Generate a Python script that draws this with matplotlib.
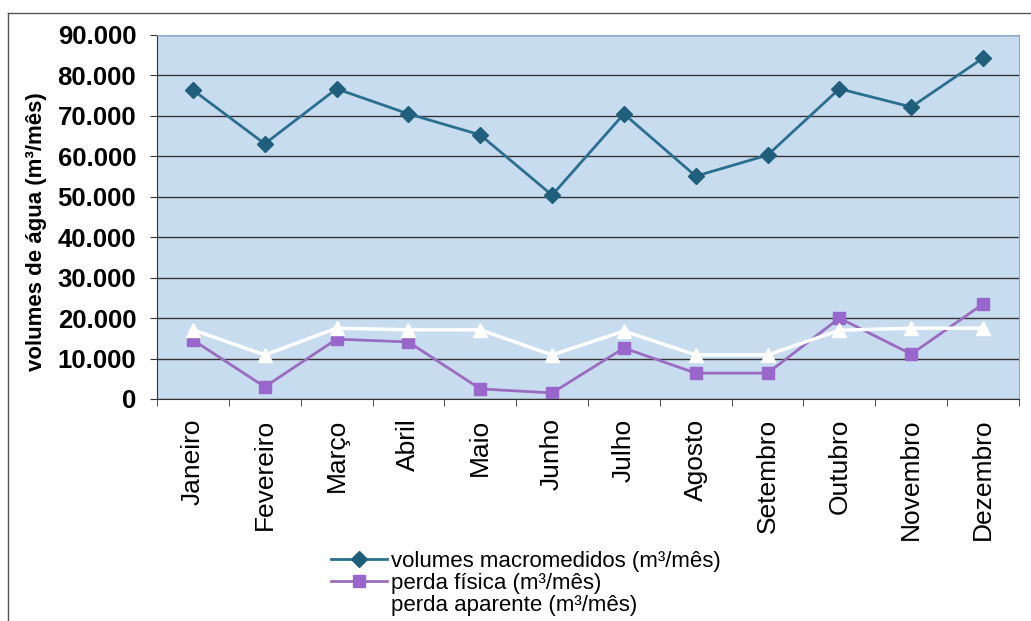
import matplotlib.pyplot as plt
from matplotlib.lines import Line2D
from matplotlib.ticker import FuncFormatter
import numpy as np

plt.rcParams['font.family'] = ['Liberation Sans', 'DejaVu Sans']

meses = ['Janeiro', 'Fevereiro', 'Março', 'Abril', 'Maio', 'Junho', 'Julho',
         'Agosto', 'Setembro', 'Outubro', 'Novembro', 'Dezembro']
volumes = [76400, 63100, 76700, 70500, 65300, 50400, 70500, 55100, 60300, 76700, 72200, 84300]
perda_fisica = [14600, 3000, 14800, 14100, 2500, 1500, 12600, 6400, 6400, 20000, 11100, 23500]
perda_aparente = [17100, 10900, 17500, 17100, 17100, 10900, 16800, 10900, 10900, 17000, 17500, 17500]

fig = plt.figure(figsize=(10.31, 6.21), dpi=100)
ax = fig.add_axes([157/1031, 1 - 399/621, (1019 - 157)/1031, (399 - 35)/621])
ax.set_facecolor('#c8dcf0')

x = np.arange(len(meses))
l1, = ax.plot(x, volumes, color='#2b6f8e', lw=2, marker='D', ms=8,
              mfc='#1f5f7c', mec='#1f5f7c', label='volumes macromedidos (m³/mês)')
l2, = ax.plot(x, perda_fisica, color='#9a6cc0', lw=2, marker='s', ms=9,
              mfc='#9966cc', mec='#9966cc', label='perda física (m³/mês)')
l3, = ax.plot(x, perda_aparente, color='white', lw=2.5, marker='^', ms=10,
              mfc='white', mec='white', label='perda aparente (m³/mês)')

ax.set_xlim(-0.5, len(meses) - 0.5)
ax.set_ylim(0, 90000)
ax.set_yticks(np.arange(0, 90001, 10000))
ax.yaxis.set_major_formatter(FuncFormatter(lambda v, p: '0' if v == 0 else f'{int(v):,}'.replace(',', '.')))
ax.yaxis.grid(True, color='#333333', lw=1)
ax.set_axisbelow(True)

ax.set_xticks(x)
ax.set_xticklabels(meses, rotation=90, fontsize=19)
ax.tick_params(axis='x', length=0, pad=14)
ax.set_xticks(np.arange(-0.5, len(meses)), minor=True)
ax.tick_params(axis='x', which='minor', length=5, color='#333333')
ax.tick_params(axis='y', labelsize=18.5, length=5, color='#333333', pad=10)
for t in ax.get_yticklabels():
    t.set_fontweight('bold')

for s in ['top', 'right']:
    ax.spines[s].set_color('#8aaed0')
ax.spines['left'].set_color('#333333')
ax.spines['bottom'].set_color('#333333')

ax.set_ylabel('volumes de água (m³/mês)', fontsize=16, fontweight='bold')
ax.yaxis.set_label_coords(-0.128, 0.46)

fig.legend(handles=[l1, l2, l3], loc='upper left', bbox_to_anchor=(320/1031, 1 - 540/621),
           frameon=False, fontsize=16, handlelength=2.5, handletextpad=0.2,
           labelspacing=0.05, borderpad=0)

# moldura do gráfico
fig.add_artist(Line2D([8/1031, 1], [1 - 13/621, 1 - 13/621], color='#555555', lw=1))
fig.add_artist(Line2D([8/1031, 8/1031], [0, 1 - 13/621], color='#555555', lw=1))

fig.savefig('out.png', dpi=100)
